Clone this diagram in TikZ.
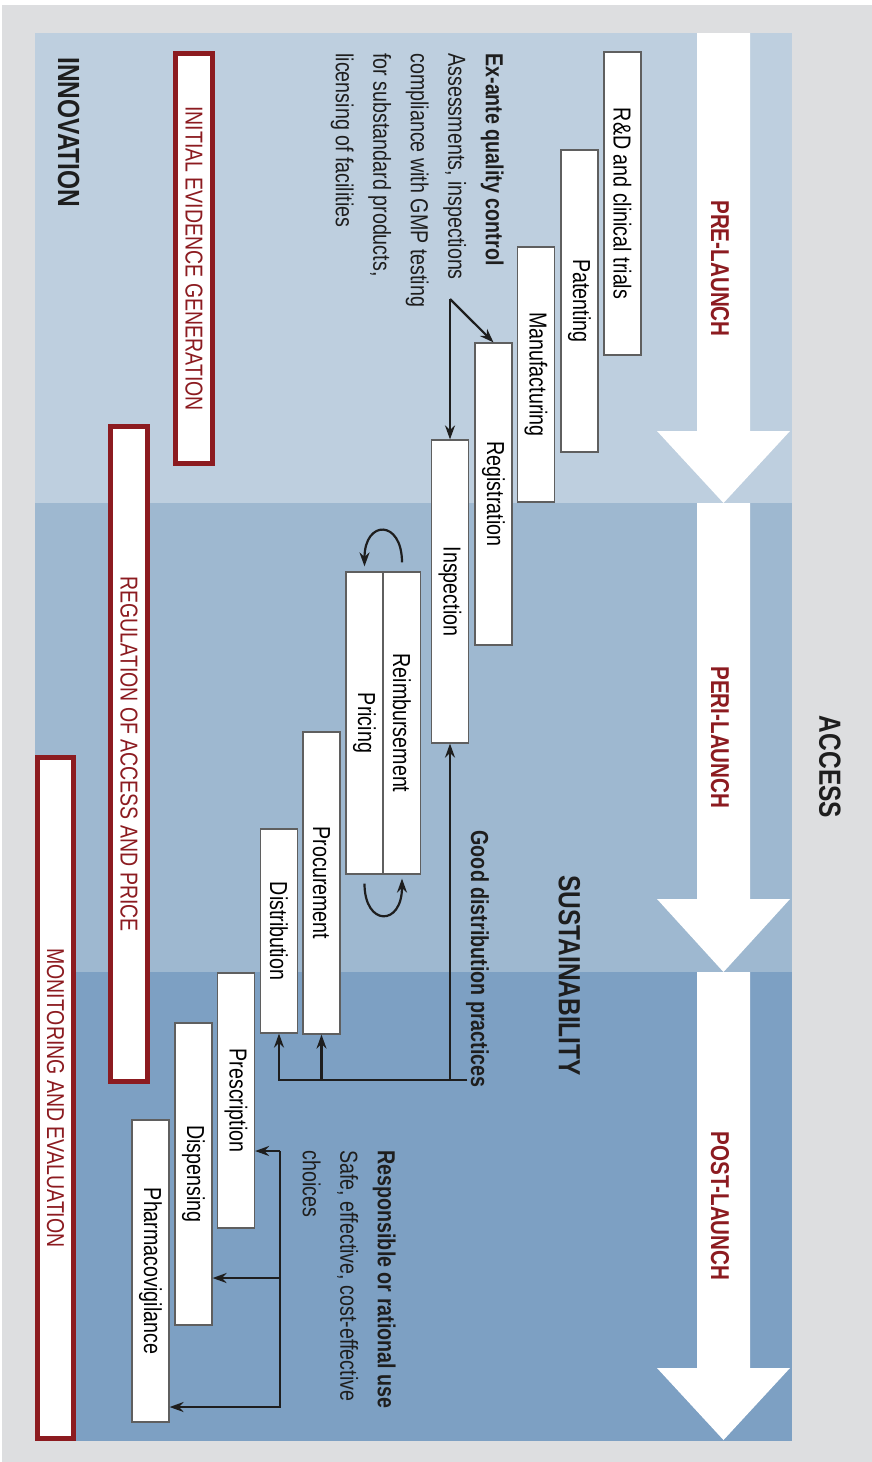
\documentclass[tikz,border=0pt]{standalone}
\usepackage{fontspec}
\setmainfont{Liberation Sans}[FakeStretch=0.8]
\usepackage{xcolor}
\usetikzlibrary{arrows.meta}

\definecolor{bggray}{RGB}{221,222,224}
\definecolor{prebg}{RGB}{190,207,223}
\definecolor{peribg}{RGB}{158,184,208}
\definecolor{postbg}{RGB}{125,160,195}
\definecolor{darkred}{RGB}{140,27,32}
\definecolor{boxgray}{RGB}{95,95,95}
\definecolor{ink}{RGB}{30,30,30}

\tikzset{
  stagebox/.style={draw=boxgray, fill=white, line width=0.6pt, rotate=-90,
    minimum height=18.5pt, inner sep=0pt, font=\fontsize{12.3}{14}\selectfont},
  redframe/.style={draw=darkred, fill=white, line width=2.5pt, rotate=-90,
    minimum height=18.5pt, inner sep=0pt, text=darkred, font=\fontsize{12.2}{14}\selectfont},
  phaselabel/.style={rotate=-90, inner sep=0pt, text=darkred, font=\bfseries\fontsize{12.9}{15}\selectfont},
  theme/.style={rotate=-90, inner sep=0pt, text=ink, font=\bfseries\fontsize{15.3}{18}\selectfont},
  note/.style={rotate=-90, inner sep=0pt, text=ink, align=left, font=\fontsize{12.3}{18.75}\selectfont},
  link/.style={->, draw=ink, line width=1.1pt, line join=miter}
}

\begin{document}
\begin{tikzpicture}[x=0.5pt, y=-0.5pt, >={Stealth[length=7pt, width=5pt]}]
    % backdrop and phase bands
    \fill[white] (0,0) rectangle (872,1462);
    \fill[bggray] (2,5) rectangle (872,1462);
    \fill[prebg] (35,33) rectangle (792,503);
    \fill[peribg] (35,503) rectangle (792,972);
    \fill[postbg] (35,972) rectangle (792,1441);

    % white phase arrows
    \fill[white] (697,33) -- (750,33) -- (750,431) -- (790,431) -- (723.5,503) -- (657,431) -- (697,431) -- cycle;
    \fill[white] (697,503) -- (750,503) -- (750,899) -- (790,899) -- (723.5,972) -- (657,899) -- (697,899) -- cycle;
    \fill[white] (697,972) -- (750,972) -- (750,1368) -- (790,1368) -- (723.5,1440) -- (657,1368) -- (697,1368) -- cycle;

    \node[phaselabel] (pre) at (720,268.5) {PRE-LAUNCH};
    \node[phaselabel] (peri) at (720,737.5) {PERI-LAUNCH};
    \node[phaselabel] (post) at (720,1206) {POST-LAUNCH};

    \node[theme] (access) at (830,767) {ACCESS};
    \node[theme] (sustain) at (569.5,975.5) {SUSTAINABILITY};
    \node[theme, anchor=north west] (innov) at (80,57) {INNOVATION};

    % steps
    \node[stagebox, minimum width=151.5pt] (rnd) at (622.5,203.5) {R\&D and clinical trials};
    \node[stagebox, minimum width=151pt] (patent) at (579.5,301) {Patenting};
    \node[stagebox, minimum width=127.5pt] (manuf) at (536,374.5) {Manufacturing};
    \node[stagebox, minimum width=151pt] (regist) at (493.5,494) {Registration};
    \node[stagebox, minimum width=151.5pt] (inspect) at (450,591.5) {Inspection};
    \node[stagebox, minimum width=151pt] (reimb) at (402,723) {Reimbursement};
    \node[stagebox, minimum width=151pt] (pricing) at (364.5,723) {Pricing};
    \node[stagebox, minimum width=151pt] (procure) at (321.5,883) {Procurement};
    \node[stagebox, minimum width=102pt] (distrib) at (279,931) {Distribution};
    \node[stagebox, minimum width=127.5pt] (prescr) at (236,1100.5) {Prescription};
    \node[stagebox, minimum width=151pt] (dispens) at (193.5,1174) {Dispensing};
    \node[stagebox, minimum width=151pt] (pharma) at (150.5,1271) {Pharmacovigilance};

    % policy frames
    \node[redframe, minimum width=205pt] (ieg) at (194,258.5) {INITIAL EVIDENCE GENERATION};
    \node[redframe, minimum width=327.5pt] (rap) at (129,754) {REGULATION OF ACCESS AND PRICE};
    \node[redframe, minimum width=340.5pt, minimum height=18pt] (mne) at (55.5,1098) {MONITORING AND EVALUATION};

    % notes
    \node[note, anchor=north west] (qctext) at (504,53) {\textbf{Ex-ante quality control}\\Assessments, inspections\\compliance with GMP testing\\for substandard products,\\licensing of facilities};
    \node[note, anchor=north west] (usetext) at (396,1150) {\textbf{Responsible or rational use}\\Safe, effective, cost-effective\\choices};
    \node[note, anchor=base east, font=\bfseries\fontsize{12.3}{14}\selectfont] (gdptext) at (471,1088) {Good distribution practices};

    % quality control
    \coordinate (qc) at (450,299);
    \draw[link] (qc) -- (regist.west);
    \draw[link] (qc) -- (inspect.west);

    % good distribution practices
    \coordinate (gdp) at (467,1080);
    \draw[link] (gdp) -- (inspect.east |- gdp) -- (inspect.east);
    \draw[link] (gdp) -- (distrib.east |- gdp) -- (distrib.east);
    \draw[link] (procure.east |- gdp) -- (procure.east);

    % reimbursement and pricing loop
    \draw[link] ([yshift=4.5pt]reimb.west) .. controls +(0,-43) and +(0,-47) .. ([yshift=2.5pt]pricing.west);
    \draw[link] ([yshift=-4.5pt]pricing.east) .. controls +(0,43) and +(0,48) .. ([yshift=-2pt]reimb.east);

    % rational use
    \coordinate (rtop) at (280,1151);
    \coordinate (rmid) at (280,1278);
    \coordinate (rbot) at (280,1407);
    \draw[link] (rtop) -- (prescr.north |- rtop);
    \draw[link] (rmid) -- (dispens.north |- rmid);
    \draw[link] (rtop) -- (rbot) -- (pharma.north |- rbot);
\end{tikzpicture}
\end{document}
